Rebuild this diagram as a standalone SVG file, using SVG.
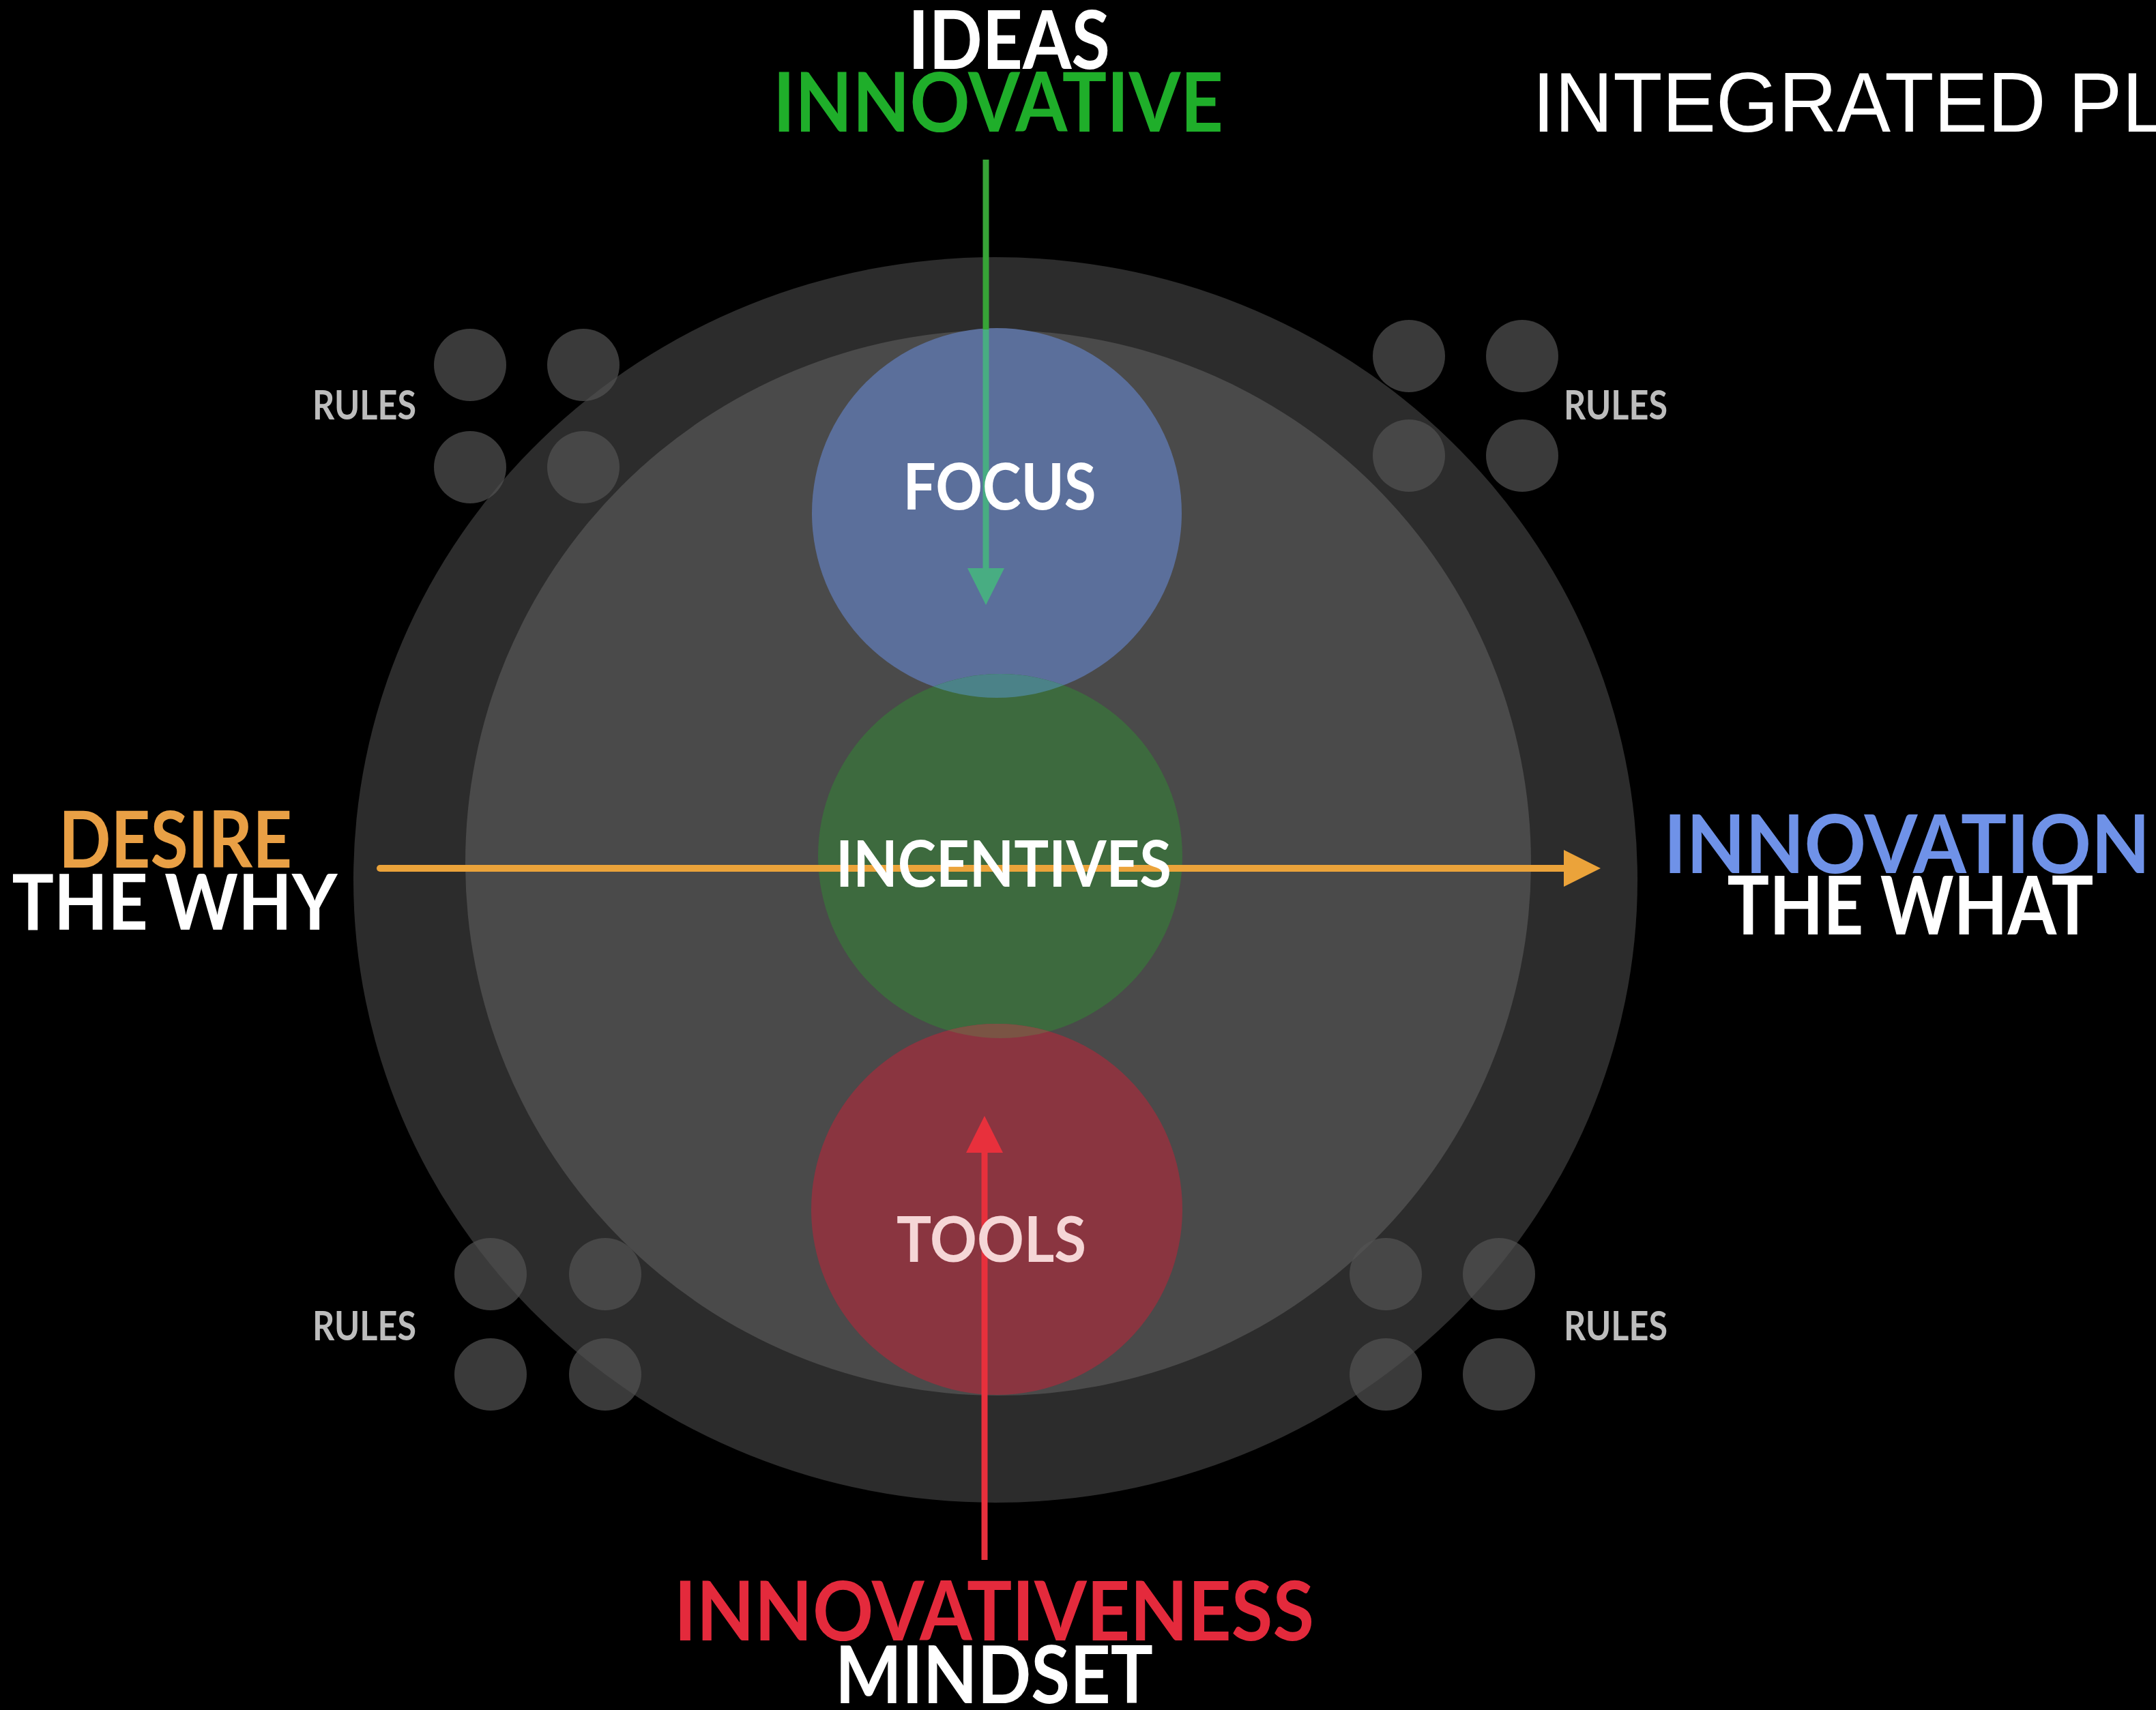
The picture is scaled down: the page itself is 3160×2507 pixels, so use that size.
<svg xmlns="http://www.w3.org/2000/svg" width="3160" height="2507" viewBox="0 0 3160 2507">
<style>
.lbl{font-family:Lato,"Liberation Sans",sans-serif;font-weight:bold;text-anchor:middle}
.rules{font-family:Lato,"Liberation Sans",sans-serif;font-weight:bold;font-size:60px;fill:#bdbdbd;text-anchor:middle}
.dot{fill:#525252;opacity:0.7}
.w{fill:#ffffff}
</style>
<defs>
<marker id="ahOrange" markerUnits="userSpaceOnUse" viewBox="0 0 54 54" refX="0" refY="27" markerWidth="54" markerHeight="54" orient="auto"><path d="M0,0 L54,27 L0,54 z" fill="#eba33a"/></marker>
<marker id="ahTeal" markerUnits="userSpaceOnUse" viewBox="0 0 54 54" refX="0" refY="27" markerWidth="54" markerHeight="54" orient="auto"><path d="M0,0 L54,27 L0,54 z" fill="#48ad82"/></marker>
<marker id="ahRed" markerUnits="userSpaceOnUse" viewBox="0 0 54 54" refX="0" refY="27" markerWidth="54" markerHeight="54" orient="auto"><path d="M0,0 L54,27 L0,54 z" fill="#e8303c"/></marker>
<linearGradient id="gGreen" gradientUnits="userSpaceOnUse" x1="0" y1="234" x2="0" y2="833">
<stop offset="0" stop-color="#37a437"/><stop offset="0.415" stop-color="#37a437"/><stop offset="0.415" stop-color="#48ad82"/><stop offset="1" stop-color="#48ad82"/>
</linearGradient>
<clipPath id="cFocus"><circle cx="1461" cy="752" r="271"/></clipPath>
<clipPath id="cTools"><circle cx="1461" cy="1773" r="272"/></clipPath>
</defs>
<rect width="3160" height="2507" fill="#000"/>

<g id="outer-ring"><ellipse cx="1459" cy="1290" rx="941" ry="913" fill="#2c2c2c"/></g>
<g id="inner-circle"><circle cx="1463" cy="1265" r="781" fill="#4a4a4a"/></g>

<g id="rules-tl">
<circle class="dot" cx="689" cy="535" r="53"/><circle class="dot" cx="855" cy="535" r="53"/>
<circle class="dot" cx="689" cy="685" r="53"/><circle class="dot" cx="855" cy="685" r="53"/>
<text class="rules" x="534" y="615" textLength="152" lengthAdjust="spacingAndGlyphs">RULES</text>
</g>
<g id="rules-tr">
<circle class="dot" cx="2065" cy="522" r="53"/><circle class="dot" cx="2231" cy="522" r="53"/>
<circle class="dot" cx="2065" cy="668" r="53"/><circle class="dot" cx="2231" cy="668" r="53"/>
<text class="rules" x="2368" y="615" textLength="152" lengthAdjust="spacingAndGlyphs">RULES</text>
</g>
<g id="rules-bl">
<circle class="dot" cx="719" cy="1868" r="53"/><circle class="dot" cx="887" cy="1868" r="53"/>
<circle class="dot" cx="719" cy="2015" r="53"/><circle class="dot" cx="887" cy="2015" r="53"/>
<text class="rules" x="534" y="1965" textLength="152" lengthAdjust="spacingAndGlyphs">RULES</text>
</g>
<g id="rules-br">
<circle class="dot" cx="2031" cy="1868" r="53"/><circle class="dot" cx="2197" cy="1868" r="53"/>
<circle class="dot" cx="2031" cy="2015" r="53"/><circle class="dot" cx="2197" cy="2015" r="53"/>
<text class="rules" x="2368" y="1965" textLength="152" lengthAdjust="spacingAndGlyphs">RULES</text>
</g>

<g id="focus">
<circle cx="1461" cy="752" r="271" fill="#5b6f9b"/>
</g>
<g id="incentives">
<circle cx="1466" cy="1255" r="267" fill="#3d6a3e"/>
<circle cx="1466" cy="1255" r="267" fill="#4b8288" clip-path="url(#cFocus)"/>
</g>
<g id="tools">
<circle cx="1461" cy="1773" r="272" fill="#8a3540"/>
<circle cx="1466" cy="1255" r="267" fill="#7a5444" clip-path="url(#cTools)"/>
</g>

<g id="connectors">
<path d="M1445,234 V833" stroke="url(#gGreen)" stroke-width="9" fill="none" marker-end="url(#ahTeal)"/>
<path d="M557,1273 H2292" stroke="#eba33a" stroke-width="10" stroke-linecap="round" fill="none" marker-end="url(#ahOrange)"/>
<path d="M1443,2287 V1690" stroke="#e8303c" stroke-width="9" fill="none" marker-end="url(#ahRed)"/>
</g>

<g id="node-labels">
<text class="lbl w" x="1465" y="747" font-size="93" textLength="283" lengthAdjust="spacingAndGlyphs">FOCUS</text>
<text class="lbl w" x="1471" y="1300" font-size="93" textLength="492" lengthAdjust="spacingAndGlyphs">INCENTIVES</text>
<text class="lbl" fill="#f5d6d6" x="1453" y="1850" font-size="92" textLength="278" lengthAdjust="spacingAndGlyphs">TOOLS</text>
</g>

<g id="top-label">
<text class="lbl w" x="1479" y="101" font-size="118" textLength="296" lengthAdjust="spacingAndGlyphs">IDEAS</text>
<text class="lbl" fill="#1fae2a" x="1463" y="193" font-size="120" textLength="660" lengthAdjust="spacingAndGlyphs">INNOVATIVE</text>
</g>
<g id="left-label">
<text class="lbl" fill="#e9a045" x="257" y="1272" font-size="114" textLength="342" lengthAdjust="spacingAndGlyphs">DESIRE</text>
<text class="lbl w" x="256" y="1363" font-size="113" textLength="477" lengthAdjust="spacingAndGlyphs">THE WHY</text>
</g>
<g id="right-label">
<text class="lbl" fill="#6f92e8" x="2795" y="1280" font-size="118" textLength="713" lengthAdjust="spacingAndGlyphs">INNOVATION</text>
<text class="lbl w" x="2800" y="1370" font-size="118" textLength="537" lengthAdjust="spacingAndGlyphs">THE WHAT</text>
</g>
<g id="bottom-label">
<text class="lbl" fill="#e42a3c" x="1457" y="2405" font-size="120" textLength="938" lengthAdjust="spacingAndGlyphs">INNOVATIVENESS</text>
<text class="lbl w" x="1457" y="2497" font-size="117" textLength="466" lengthAdjust="spacingAndGlyphs">MINDSET</text>
</g>
<g id="title">
<text x="2246" y="193" font-family="Liberation Sans, sans-serif" font-size="125" fill="#ffffff" textLength="930" lengthAdjust="spacingAndGlyphs">INTEGRATED PL</text>
</g>
</svg>
